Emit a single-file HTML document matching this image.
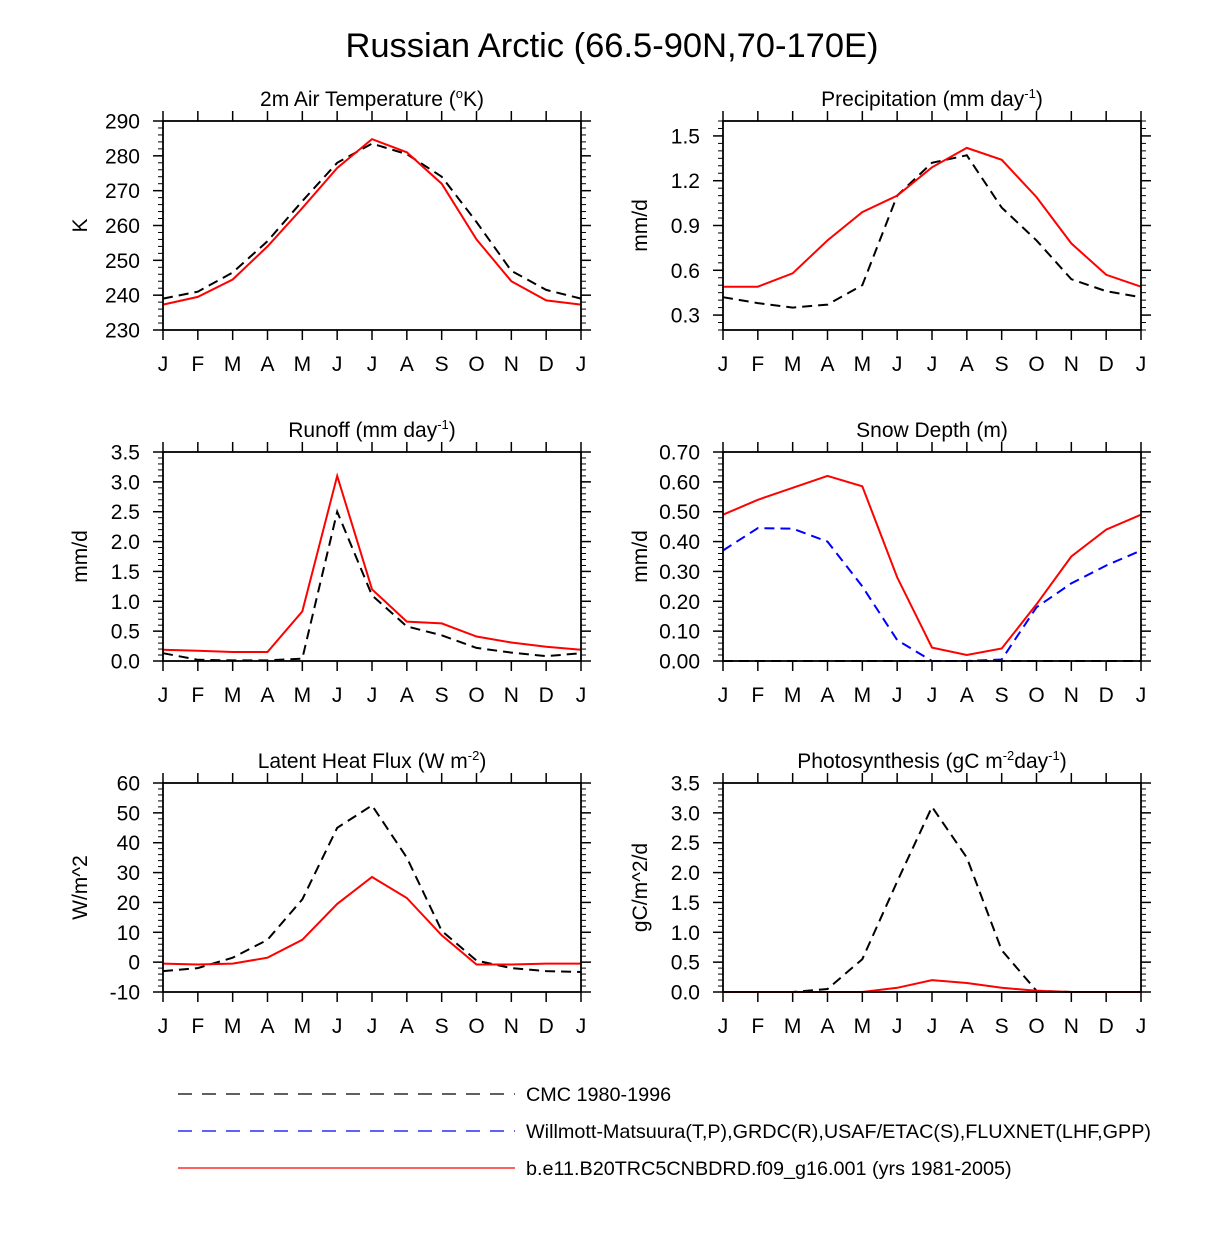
<!DOCTYPE html>
<html><head><meta charset="utf-8"><style>
body{margin:0;background:#fff;}
svg{display:block;font-family:"Liberation Sans",sans-serif;}
</style></head><body>
<svg id="chart" width="1224" height="1258" xmlns="http://www.w3.org/2000/svg">
<text x="612" y="57" font-size="34.5" text-anchor="middle">Russian Arctic (66.5-90N,70-170E)</text>
<g font-size="19.8">
<line x1="178" y1="1094" x2="515" y2="1094" stroke="#000" stroke-width="1.3" stroke-dasharray="14,10"/>
<text x="526" y="1101">CMC 1980-1996</text>
<line x1="178" y1="1131" x2="515" y2="1131" stroke="#00f" stroke-width="1.3" stroke-dasharray="14,10"/>
<text x="526" y="1138">Willmott-Matsuura(T,P),GRDC(R),USAF/ETAC(S),FLUXNET(LHF,GPP)</text>
<line x1="178" y1="1168" x2="515" y2="1168" stroke="#f00" stroke-width="1.3"/>
<text x="526" y="1175">b.e11.B20TRC5CNBDRD.f09_g16.001 (yrs 1981-2005)</text>
</g>
</svg>
<script>
const months = ["J","F","M","A","M","J","J","A","S","O","N","D","J"];
const tempCMC = [239,241,246.5,255.5,267,278,283.5,280.5,274,261,247,241.5,239];
const tempModel = [237.3,239.5,244.5,254,265,276.5,284.8,281,272,256,244,238.5,237.3];
const precCMC = [0.42,0.38,0.35,0.37,0.5,1.1,1.32,1.37,1.02,0.8,0.54,0.46,0.42];
const precModel = [0.49,0.49,0.58,0.8,0.99,1.1,1.29,1.42,1.34,1.09,0.78,0.57,0.49];
const runCMC = [0.13,0.02,0.01,0.01,0.04,2.5,1.1,0.58,0.43,0.22,0.14,0.08,0.13];
const runModel = [0.19,0.17,0.15,0.15,0.83,3.1,1.2,0.66,0.63,0.41,0.31,0.24,0.19];
const snowCMC = [0,0,0,0,0,0,0,0,0,0,0,0,0];
const snowObs = [0.37,0.445,0.443,0.40,0.25,0.07,0.0,0.0,0.005,0.18,0.26,0.32,0.37];
const snowModel = [0.49,0.54,0.58,0.62,0.585,0.28,0.045,0.02,0.042,0.19,0.35,0.44,0.49];
const lhfCMC = [-3,-2,1.5,7.5,21,45,52.5,35,10.5,0.5,-2,-3,-3.3];
const lhfModel = [-0.5,-0.8,-0.5,1.5,7.5,19.5,28.5,21.5,9,-0.8,-0.8,-0.5,-0.5];
const gppCMC = [0,0,0,0.05,0.55,1.85,3.1,2.25,0.7,0.02,0,0,0];
const gppModel = [0,0,0,0,0,0.07,0.2,0.15,0.07,0.02,0,0,0];
const tempTicks = ["230","240","250","260","270","280","290"];
const precTicks = ["0.3","0.6","0.9","1.2","1.5"];
const runTicks = ["0.0","0.5","1.0","1.5","2.0","2.5","3.0","3.5"];
const snowTicks = ["0.00","0.10","0.20","0.30","0.40","0.50","0.60","0.70"];
const lhfTicks = ["-10","0","10","20","30","40","50","60"];
const gppTicks = ["0.0","0.5","1.0","1.5","2.0","2.5","3.0","3.5"];

const NS="http://www.w3.org/2000/svg";
const svg=document.getElementById('chart');
function mk(tag,attrs,parent){const e=document.createElementNS(NS,tag);for(const k in attrs)e.setAttribute(k,attrs[k]);(parent||svg).appendChild(e);return e;}

const panels=[
 {name:"air-temperature",title:"2m Air Temperature (<tspan font-size='13' dy='-8'>o</tspan><tspan dy='8'>K)</tspan>",ylab:"K",x0:163,y0:121,min:230,max:290,ticks:tempTicks,minor:2,
  series:[[tempCMC,"#000",true],[tempModel,"#f00",false]]},
 {name:"precipitation",title:"Precipitation (mm day<tspan font-size='13' dy='-8'>-1</tspan><tspan dy='8'>)</tspan>",ylab:"mm/d",x0:723,y0:121,min:0.2,max:1.6,ticks:precTicks,minor:0.05,
  series:[[precCMC,"#000",true],[precModel,"#f00",false]]},
 {name:"runoff",title:"Runoff (mm day<tspan font-size='13' dy='-8'>-1</tspan><tspan dy='8'>)</tspan>",ylab:"mm/d",x0:163,y0:452,min:0,max:3.5,ticks:runTicks,minor:0.1,
  series:[[runCMC,"#000",true],[runModel,"#f00",false]]},
 {name:"snow-depth",title:"Snow Depth (m)",ylab:"mm/d",x0:723,y0:452,min:0,max:0.7,ticks:snowTicks,minor:0.02,
  series:[[snowCMC,"#000",true],[snowObs,"#00f",true],[snowModel,"#f00",false]]},
 {name:"latent-heat-flux",title:"Latent Heat Flux (W m<tspan font-size='13' dy='-8'>-2</tspan><tspan dy='8'>)</tspan>",ylab:"W/m^2",x0:163,y0:783,min:-10,max:60,ticks:lhfTicks,minor:2,
  series:[[lhfCMC,"#000",true],[lhfModel,"#f00",false]]},
 {name:"photosynthesis",title:"Photosynthesis (gC m<tspan font-size='13' dy='-8'>-2</tspan><tspan dy='8'>day</tspan><tspan font-size='13' dy='-8'>-1</tspan><tspan dy='8'>)</tspan>",ylab:"gC/m^2/d",x0:723,y0:783,min:0,max:3.5,ticks:gppTicks,minor:0.1,
  series:[[gppCMC,"#000",true],[gppModel,"#f00",false]]}
];
const W=418,H=209;
panels.forEach(p=>{
  const g=mk('g',{});
  
  
  const xs=i=>p.x0+i*W/12;
  const ys=v=>p.y0+H-(v-p.min)/(p.max-p.min)*H;
  const t=mk('text',{x:p.x0+W/2,y:p.y0-15,'font-size':21,'text-anchor':'middle'},g);
  t.innerHTML=p.title;
  
  
  const yl=mk('text',{x:0,y:0,'font-size':21,'text-anchor':'middle',transform:`translate(${p.x0-76},${p.y0+H/2}) rotate(-90)`},g);
  yl.textContent=p.ylab;
  
  
  const nmin=Math.round((p.max-p.min)/p.minor);
  for(let k=0;k<=nmin;k++){
    const v=p.min+k*p.minor;const y=ys(v);
    mk('line',{x1:p.x0-5,y1:y,x2:p.x0,y2:y,stroke:'#000','stroke-width':1},g);
    mk('line',{x1:p.x0+W,y1:y,x2:p.x0+W+5,y2:y,stroke:'#000','stroke-width':1},g);
  }
  p.ticks.forEach(lbl=>{
    const y=ys(parseFloat(lbl));
    mk('line',{x1:p.x0-10,y1:y,x2:p.x0,y2:y,stroke:'#000','stroke-width':1.5},g);
    mk('line',{x1:p.x0+W,y1:y,x2:p.x0+W+10,y2:y,stroke:'#000','stroke-width':1.5},g);
    const tl=mk('text',{x:p.x0-23,y:y+7.5,'font-size':21,'text-anchor':'end'},g);
    tl.textContent=lbl;
    
    
  });
  months.forEach((m,i)=>{
    const x=xs(i);
    mk('line',{x1:x,y1:p.y0-10,x2:x,y2:p.y0,stroke:'#000','stroke-width':1.5},g);
    mk('line',{x1:x,y1:p.y0+H,x2:x,y2:p.y0+H+10,stroke:'#000','stroke-width':1.5},g);
    const tl=mk('text',{x:x,y:p.y0+H+41,'font-size':21,'text-anchor':'middle'},g);
    tl.textContent=m;
    
    
  });
  p.series.forEach((s,si)=>{
    const pts=s[0].map((v,i)=>xs(i).toFixed(1)+','+ys(v).toFixed(1)).join(' ');
    const pl=mk('polyline',{points:pts,fill:'none',stroke:s[1],'stroke-width':2,'stroke-dasharray':s[2]?'10,6':'none'},g);
    
    
  });
  const box=mk('rect',{x:p.x0,y:p.y0,width:W,height:H,fill:'none',stroke:'#000','stroke-width':1.8},g);
  
  
});
</script>
</body></html>
